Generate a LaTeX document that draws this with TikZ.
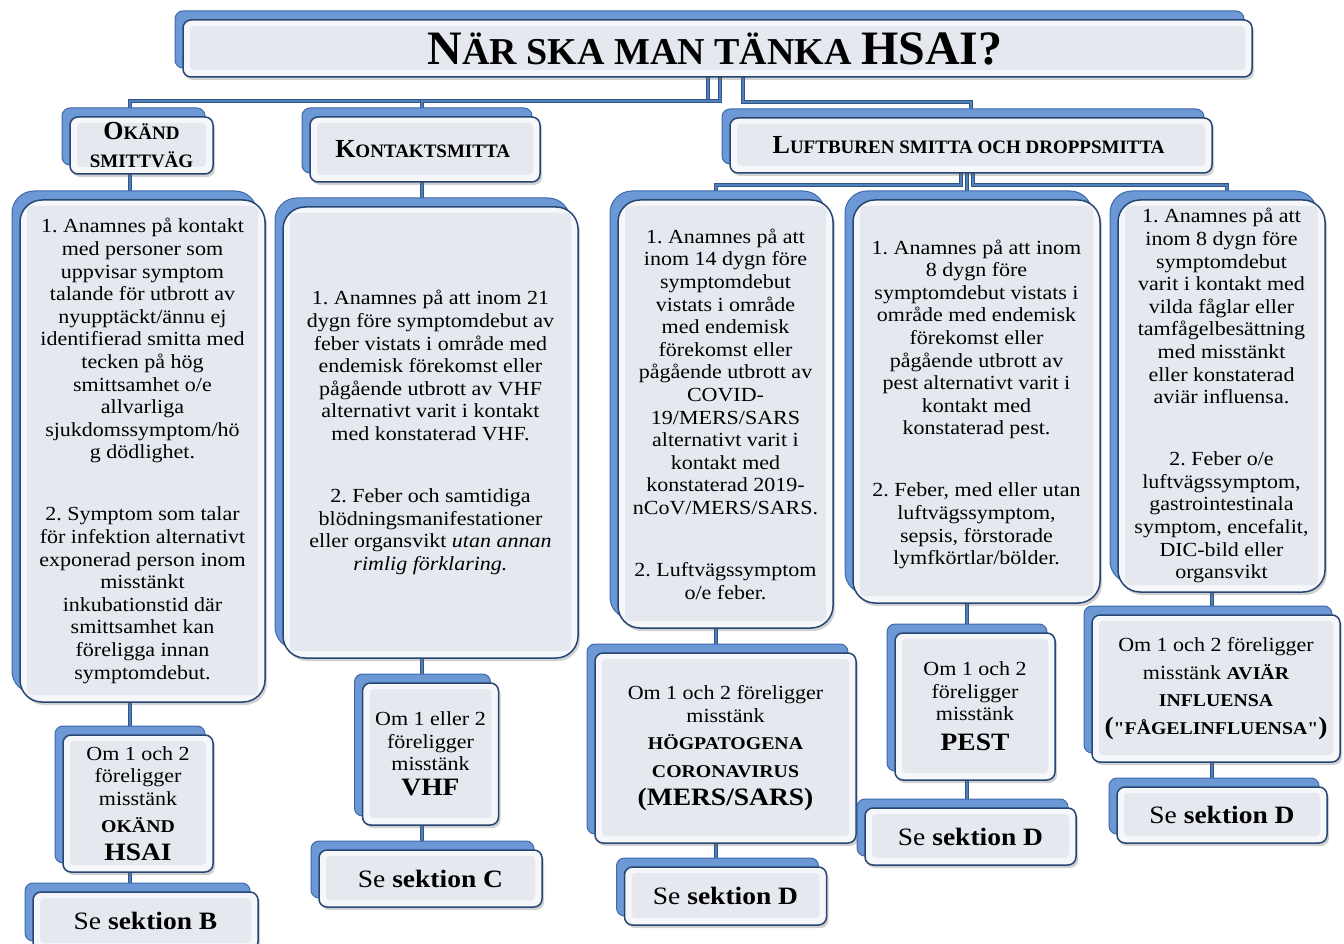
\documentclass[tikz,border=0pt]{standalone}
\usepackage{fontspec}
\setmainfont{Liberation Serif}[FakeStretch=1.1]
\newfontfamily\headfont{Liberation Serif}
\newfontfamily\plainfont{Liberation Serif}[FakeStretch=1.1]
\usetikzlibrary{shapes,positioning,calc,shadows,backgrounds}
\frenchspacing

\definecolor{frontedge}{RGB}{40,70,115}
\definecolor{frontfill}{RGB}{245,247,250}
\definecolor{innerfill}{RGB}{229,233,239}
\definecolor{backblue}{RGB}{108,152,214}
\definecolor{backedge}{RGB}{62,105,170}
\definecolor{linkblue}{RGB}{79,129,189}
\definecolor{linkedge}{RGB}{50,86,132}

\tikzset{
    box/.style={rectangle, draw=frontedge, line width=1.5pt, fill=frontfill,
        rounded corners=8pt, align=center, inner sep=2pt, outer sep=0pt,
        font=\fontsize{20}{22.6}\selectfont,
        drop shadow={shadow xshift=2pt, shadow yshift=-3pt, opacity=0.3,
            fill=black!60, path picture={}},
        copy shadow={shadow xshift=-8pt, shadow yshift=9pt, fill=backblue,
            draw=backedge, line width=1pt, path picture={}},
        path picture={\fill[innerfill, rounded corners=4pt]
            ([shift={(7pt,-6pt)}]path picture bounding box.north west) rectangle
            ([shift={(-7pt,7pt)}]path picture bounding box.south east);}},
    bigbox/.style={box, rounded corners=22pt},
    head/.style={box, font=\headfont\bfseries\fontsize{19}{28}\selectfont},
    refbox/.style={box, font=\fontsize{25}{28}\selectfont},
    link/.style={draw=linkedge, line width=0.9pt, double=linkblue, double distance=2.6pt},
}

\begin{document}
\begin{tikzpicture}[x=1pt, y=-1pt]
        \useasboundingbox (0,0) rectangle (1344,944);

        %-----Headings-----
        % Title
        \node [head, minimum width=1069pt, minimum height=57pt] (title) at (717.5,48.5) {%
            {\fontsize{48}{50}\selectfont N}{\fontsize{38}{40}\selectfont ÄR SKA MAN TÄNKA }{\fontsize{48}{50}\selectfont HSAI?}
        };

        % Okänd smittväg
        \node [head, minimum width=143pt, minimum height=57pt] (okand) at (141.5,145.5) {%
            {\fontsize{26}{28}\selectfont O}KÄND\\
            SMITTVÄG
        };

        % Kontaktsmitta
        \node [head, minimum width=230pt, minimum height=65pt] (kontakt) at (425,149.5) {%
            {\fontsize{26}{28}\selectfont K}ONTAKTSMITTA
        };

        % Luftburen smitta och droppsmitta
        \node [head, minimum width=482pt, minimum height=55pt] (luft) at (971,145.5) {%
            {\fontsize{26}{28}\selectfont L}UFTBUREN SMITTA OCH DROPPSMITTA
        };

        %-----Criteria-----
        % Okänd smittväg criteria
        \node [bigbox, minimum width=245pt, minimum height=502pt] (a2) at (142.5,451) {%
            1. Anamnes på kontakt\\
            med personer som\\
            uppvisar symptom\\
            talande för utbrott av\\
            nyupptäckt/ännu ej\\
            identifierad smitta med\\
            tecken på hög\\
            smittsamhet o/e\\
            allvarliga\\
            sjukdomssymptom/hö\\
            g dödlighet.\\[39.4pt]
            2. Symptom som talar\\
            för infektion alternativt\\
            exponerad person inom\\
            misstänkt\\
            inkubationstid där\\
            smittsamhet kan\\
            föreligga innan\\
            symptomdebut.
        };

        % Kontaktsmitta criteria
        \node [bigbox, minimum width=295pt, minimum height=451pt] (b2) at (430.5,432.5) {%
            1. Anamnes på att inom 21\\
            dygn före symptomdebut av\\
            feber vistats i område med\\
            endemisk förekomst eller\\
            pågående utbrott av VHF\\
            alternativt varit i kontakt\\
            med konstaterad VHF.\\[39.4pt]
            2. Feber och samtidiga\\
            blödningsmanifestationer\\
            eller organsvikt \textit{utan annan}\\
            \textit{rimlig förklaring.}
        };

        % Coronavirus criteria
        \node [bigbox, minimum width=215pt, minimum height=428pt] (c2) at (725.5,414) {%
            1. Anamnes på att\\
            inom 14 dygn före\\
            symptomdebut\\
            vistats i område\\
            med endemisk\\
            förekomst eller\\
            pågående utbrott av\\
            COVID-\\
            19/MERS/SARS\\
            alternativt varit i\\
            kontakt med\\
            konstaterad 2019-\\
            nCoV/MERS/SARS.\\[39.4pt]
            2. Luftvägssymptom\\
            o/e feber.
        };

        % Pest criteria
        \node [bigbox, minimum width=247pt, minimum height=403pt] (d2) at (976.5,401.5) {%
            \mbox{}\\[-2.6pt]
            1. Anamnes på att inom\\
            8 dygn före\\
            symptomdebut vistats i\\
            område med endemisk\\
            förekomst eller\\
            pågående utbrott av\\
            pest alternativt varit i\\
            kontakt med\\
            konstaterad pest.\\[39.4pt]
            2. Feber, med eller utan\\
            luftvägssymptom,\\
            sepsis, förstorade\\
            lymfkörtlar/bölder.
        };

        % Aviär influensa criteria
        \node [bigbox, minimum width=207pt, minimum height=392pt] (e2) at (1221.5,396) {%
            \mbox{}\\[-8.6pt]
            1. Anamnes på att\\
            inom 8 dygn före\\
            symptomdebut\\
            varit i kontakt med\\
            vilda fåglar eller\\
            tamfågelbesättning\\
            med misstänkt\\
            eller konstaterad\\
            aviär influensa.\\[39.4pt]
            2. Feber o/e\\
            luftvägssymptom,\\
            gastrointestinala\\
            symptom, encefalit,\\
            DIC-bild eller\\
            organsvikt
        };

        %-----Suspicion-----
        \node [box, below=33pt of a2, xshift=-4.5pt, minimum width=150pt, minimum height=137pt] (a3) {%
            Om 1 och 2\\
            föreligger\\
            misstänk\\[4.5pt]
            {\bfseries\fontsize{18}{20}\selectfont OKÄND}\\[5.5pt]
            {\bfseries\fontsize{25}{26}\selectfont HSAI}
        };

        \node [box, below=25pt of b2, minimum width=136pt, minimum height=142pt] (b3) {%
            Om 1 eller 2\\
            föreligger\\
            misstänk\\[2.5pt]
            {\bfseries\fontsize{25}{26}\selectfont VHF}
        };

        \node [box, below=25pt of c2, minimum width=261pt, minimum height=190pt] (c3) {%
            Om 1 och 2 föreligger\\
            misstänk\\[4.5pt]
            {\bfseries\fontsize{18}{20}\selectfont HÖGPATOGENA}\\[5.5pt]
            {\bfseries\fontsize{18}{20}\selectfont CORONAVIRUS}\\[5.5pt]
            {\bfseries\fontsize{25}{26}\selectfont (MERS/SARS)}
        };

        \node [box, below=30pt of d2, xshift=-1.5pt, minimum width=160pt, minimum height=147pt] (d3) {%
            Om 1 och 2\\
            föreligger\\
            misstänk\\[7.5pt]
            {\bfseries\fontsize{25}{26}\selectfont PEST}
        };

        \node [box, below=23pt of e2, xshift=-5.5pt, minimum width=248pt, minimum height=147pt] (e3) {%
            Om 1 och 2 föreligger\\[5.5pt]
            misstänk {\bfseries\fontsize{18}{20}\selectfont AVIÄR}\\[4.5pt]
            {\bfseries\fontsize{18}{20}\selectfont INFLUENSA}\\[5.5pt]
            {\bfseries\fontsize{25}{26}\selectfont (}{\plainfont\bfseries\fontsize{18}{20}\selectfont "FÅGELINFLUENSA"}{\bfseries\fontsize{25}{26}\selectfont )}
        };

        %-----Sections-----
        \node [refbox, below=20pt of a3, xshift=7.5pt, minimum width=225pt, minimum height=58pt] (a4) {Se \textbf{sektion B}};
        \node [refbox, below=25pt of b3, minimum width=223pt, minimum height=57pt] (b4) {Se \textbf{sektion C}};
        \node [refbox, below=24pt of c3, minimum width=202pt, minimum height=58pt] (c4) {Se \textbf{sektion D}};
        \node [refbox, below=28pt of d3, xshift=-4.5pt, minimum width=211pt, minimum height=57pt] (d4) {Se \textbf{sektion D}};
        \node [refbox, below=25pt of e3, xshift=6pt, minimum width=210pt, minimum height=56pt] (e4) {Se \textbf{sektion D}};

        % column lines
        \coordinate (colA) at (130,0);
        \coordinate (colB) at (422,0);
        \coordinate (colC) at (716,0);
        \coordinate (colD) at (967,0);
        \coordinate (colE) at (1212,0);
        \coordinate (busE) at (1227,0);

        \begin{scope}[on background layer]
% Title to the three groups
\draw[link] ([xshift=-9.5pt]title.south) -- ++(0,24) -| (okand.north -| colA);
\draw[link] ([xshift=2.5pt]title.south) -- ++(0,24) -| (kontakt.north -| colB);
\draw[link] ([xshift=25.5pt]title.south) -- ++(0,25) -| (luft.north);

% Luftburen to its three boxes
\draw[link] ([xshift=-10pt]luft.south) -- ++(0,12) -| (c2.north -| colC);
\draw[link] ([xshift=-4pt]luft.south) -- ++(0,12) -| (d2.north -| colD);
\draw[link] ([xshift=2pt]luft.south) -- ++(0,12) -| (e2.north -| busE);

% Down each column
\draw[link] (okand.south -| colA) -- (a2.north -| colA);
\draw[link] (a2.south -| colA) -- (a3.north -| colA);
\draw[link] (a3.south -| colA) -- (a4.north -| colA);

\draw[link] (kontakt.south -| colB) -- (b2.north -| colB);
\draw[link] (b2.south -| colB) -- (b3.north -| colB);
\draw[link] (b3.south -| colB) -- (b4.north -| colB);

\draw[link] (c2.south -| colC) -- (c3.north -| colC);
\draw[link] (c3.south -| colC) -- (c4.north -| colC);

\draw[link] (d2.south -| colD) -- (d3.north -| colD);
\draw[link] (d3.south -| colD) -- (d4.north -| colD);

\draw[link] (e2.south -| colE) -- (e3.north -| colE);
\draw[link] (e3.south -| colE) -- (e4.north -| colE);
        \end{scope}

    \end{tikzpicture}
\end{document}
